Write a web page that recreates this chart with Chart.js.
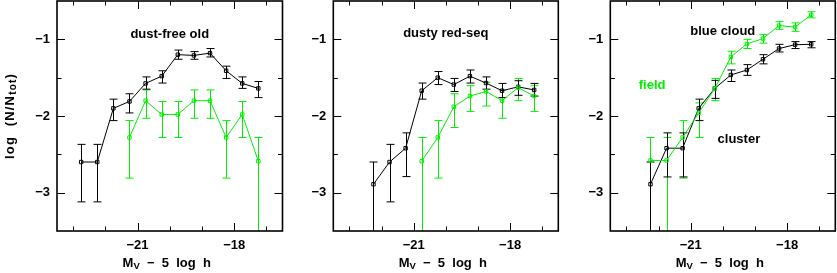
<!DOCTYPE html>
<html>
<head>
<meta charset="utf-8">
<script src="https://cdn.jsdelivr.net/npm/chart.js@4/dist/chart.umd.min.js"></script>
<style>
  body { margin: 0; background: #fff; }
  .panel { position: absolute; top: 0; height: 273px; }
</style>
</head>
<body>
<div class="panel" style="left:0px;width:284px"><canvas id="old-chart" width="284" height="273"></canvas></div>
<div class="panel" style="left:284px;width:276px"><canvas id="dusty-chart" width="276" height="273"></canvas></div>
<div class="panel" style="left:560px;width:277px"><canvas id="blue-chart" width="277" height="273"></canvas></div>
<script>
// magnitude bins (bin centres) and axis ticks
const magBins = [-22.75, -22.25, -21.75, -21.25, -20.75, -20.25, -19.75, -19.25, -18.75, -18.25, -17.75, -17.25];
const xTickLabels = [-21, -18];
const yTickLabels = [-3, -2, -1];

// dust-free old: cluster (black) and field (green), value / upper / lower end of error bar
// null lower end = error bar runs off the bottom of the plot
const oldCluster   = [-2.60, -2.60, -1.90, -1.81, -1.575, -1.48, -1.20, -1.21, -1.18, -1.41, -1.575, -1.64];
const oldClusterHi = [-2.37, -2.37, -1.78, -1.71, -1.49, -1.41, -1.14, -1.16, -1.12, -1.35, -1.49, -1.55];
const oldClusterLo = [-3.12, -3.12, -2.06, -1.96, -1.65, -1.57, -1.26, -1.26, -1.23, -1.51, -1.64, -1.76];
const oldField     = [null, null, null, -2.28, -1.80, -1.98, -1.98, -1.80, -1.80, -2.28, -1.98, -2.59];
const oldFieldHi   = [null, null, null, -2.06, -1.66, -1.81, -1.81, -1.66, -1.66, -2.06, -1.81, -2.28];
const oldFieldLo   = [null, null, null, -2.81, -2.03, -2.28, -2.28, -2.03, -2.03, -2.81, -2.28, null];

// dusty red-seq
const dustyCluster   = [null, -2.89, -2.60, -2.42, -1.67, -1.50, -1.59, -1.48, -1.57, -1.67, -1.62, -1.66];
const dustyClusterHi = [null, -2.60, -2.37, -2.22, -1.57, -1.42, -1.51, -1.40, -1.49, -1.575, -1.54, -1.575];
const dustyClusterLo = [null, null, -3.12, -2.79, -1.78, -1.59, -1.68, -1.57, -1.65, -1.76, -1.73, -1.74];
const dustyField     = [null, null, null, null, -2.59, -2.28, -1.88, -1.74, -1.68, -1.80, -1.63, -1.74];
const dustyFieldHi   = [null, null, null, null, -2.28, -2.06, -1.71, -1.605, -1.56, -1.66, -1.51, -1.605];
const dustyFieldLo   = [null, null, null, null, null, -2.81, -2.15, -1.94, -1.87, -2.03, -1.80, -1.94];

// blue cloud
const blueCluster   = [null, -2.89, -2.42, -2.42, -1.90, -1.64, -1.465, -1.40, -1.26, -1.12, -1.07, -1.065];
const blueClusterHi = [null, -2.60, -2.22, -2.22, -1.78, -1.535, -1.40, -1.33, -1.20, -1.065, -1.03, -1.03];
const blueClusterLo = [null, null, -2.795, -2.795, -2.06, -1.77, -1.55, -1.47, -1.32, -1.165, -1.12, -1.11];
const blueField     = [null, -2.58, -2.58, -2.28, -1.96, -1.64, -1.23, -1.06, -0.99, -0.82, -0.84, -0.68];
const blueFieldHi   = [null, -2.28, -2.28, -2.06, -1.83, -1.51, -1.155, -1.00, -0.935, -0.77, -0.785, -0.64];
const blueFieldLo   = [null, null, null, -2.81, -2.28, -1.80, -1.32, -1.12, -1.05, -0.87, -0.895, -0.72];

const ink = "#000000";
const green = "#00f000";
const fontFamily = "'Liberation Sans', Arial, sans-serif";

function minusLabel(v) {
  return (v < 0 ? "\u2212" : "") + Math.abs(v);
}

function series(values, hi, lo) {
  const points = [];
  magBins.forEach(function (m, i) {
    if (values[i] === null) {
      return;
    }
    points.push({ x: m, y: values[i], hi: hi[i], lo: lo[i] });
  });
  return points;
}

// draw a run of text pieces [text, size, dy] centred on 0,0 of current transform
function drawPieces(ctx, pieces) {
  let total = 0;
  pieces.forEach(function (p) {
    ctx.font = "bold " + p[1] + "px " + fontFamily;
    total += ctx.measureText(p[0]).width;
  });
  let x = -total / 2;
  pieces.forEach(function (p) {
    ctx.font = "bold " + p[1] + "px " + fontFamily;
    ctx.fillText(p[0], x, p[2]);
    x += ctx.measureText(p[0]).width;
  });
}

function noScalePadding(scale) {
  scale.paddingTop = 0;
  scale.paddingBottom = 0;
  scale.paddingLeft = 0;
  scale.paddingRight = 0;
}

const errorBarPlugin = {
  id: "errorBars",
  beforeDatasetsDraw(chart) {
    const ctx = chart.ctx;
    const xs = chart.scales.x;
    const ys = chart.scales.y;
    const area = chart.chartArea;
    ctx.save();
    ctx.beginPath();
    ctx.rect(area.left, area.top, area.right - area.left, area.bottom - area.top);
    ctx.clip();
    chart.data.datasets.forEach(function (ds) {
      ctx.strokeStyle = ds.borderColor;
      ctx.lineWidth = 1;
      ds.data.forEach(function (pt) {
        const px = Math.round(xs.getPixelForValue(pt.x)) + 0.5;
        const top = ys.getPixelForValue(pt.hi);
        const bottom = pt.lo === null ? area.bottom : ys.getPixelForValue(pt.lo);
        ctx.beginPath();
        ctx.moveTo(px, top);
        ctx.lineTo(px, bottom);
        ctx.moveTo(px - 4, top);
        ctx.lineTo(px + 4, top);
        if (pt.lo !== null) {
          ctx.moveTo(px - 4, bottom);
          ctx.lineTo(px + 4, bottom);
        }
        ctx.stroke();
      });
    });
    ctx.restore();
  },
};

const framePlugin = {
  id: "frame",
  afterDraw(chart, args, opts) {
    const ctx = chart.ctx;
    const xs = chart.scales.x;
    const ys = chart.scales.y;
    const a = chart.chartArea;
    ctx.save();
    ctx.strokeStyle = ink;
    ctx.lineWidth = 1;
    ctx.beginPath();
    for (let v = Math.ceil(xs.min); v < xs.max; v += 1) {
      const px = Math.round(xs.getPixelForValue(v)) + 0.5;
      const len = v % 3 === 0 ? 8 : 4.5;
      ctx.moveTo(px, a.bottom);
      ctx.lineTo(px, a.bottom - len);
      ctx.moveTo(px, a.top);
      ctx.lineTo(px, a.top + len);
    }
    for (let v = Math.ceil(ys.min * 2) / 2; v < ys.max; v += 0.5) {
      if (v <= ys.min) {
        continue;
      }
      const py = Math.round(ys.getPixelForValue(v)) + 0.5;
      const len = Number.isInteger(v) ? 8 : 4.5;
      ctx.moveTo(a.left, py);
      ctx.lineTo(a.left + len, py);
      ctx.moveTo(a.right, py);
      ctx.lineTo(a.right - len, py);
    }
    ctx.stroke();
    ctx.lineWidth = 1.6;
    ctx.strokeRect(a.left, a.top, a.right - a.left, a.bottom - a.top);

    // notes inside the panel
    ctx.textBaseline = "middle";
    (opts.notes || []).forEach(function (n) {
      ctx.fillStyle = n.color;
      ctx.save();
      ctx.translate(xs.getPixelForValue(n.x), ys.getPixelForValue(n.y));
      drawPieces(ctx, [[n.text, 13, 0]]);
      ctx.restore();
    });

    // axis titles
    ctx.fillStyle = ink;
    ctx.save();
    ctx.translate((a.left + a.right) / 2 - 3, 263);
    drawPieces(ctx, [["M", 13, 0], ["V", 9.5, 3], ["  \u2212  5  log  h", 13, 0]]);
    ctx.restore();
    if (opts.yTitle) {
      ctx.save();
      ctx.translate(10.5, (a.top + a.bottom) / 2);
      ctx.rotate(-Math.PI / 2);
      ctx.letterSpacing = "1.2px";
      drawPieces(ctx, [["log  (N/N", 13, 0], ["tot", 10, 3], [")", 13, 0]]);
      ctx.restore();
    }
    ctx.restore();
  },
};

function makePanel(canvasId, cluster, field, setup) {
  const tickFont = { family: fontFamily, size: 13, weight: "bold" };
  return new Chart(document.getElementById(canvasId), {
    type: "line",
    data: {
      datasets: [
        {
          label: "field",
          data: field,
          borderColor: green,
          borderWidth: 1,
          pointStyle: "rect",
          pointRadius: 2.4,
          pointBorderWidth: 1,
          pointBorderColor: green,
          pointBackgroundColor: "rgba(0,0,0,0)",
          tension: 0,
        },
        {
          label: "cluster",
          data: cluster,
          borderColor: ink,
          borderWidth: 1,
          pointStyle: "rect",
          pointRadius: 2.4,
          pointBorderWidth: 1,
          pointBorderColor: ink,
          pointBackgroundColor: "rgba(0,0,0,0)",
          tension: 0,
        },
      ],
    },
    options: {
      responsive: false,
      animation: false,
      events: [],
      layout: { autoPadding: false, padding: { top: 1, right: setup.padRight, left: 0, bottom: 0 } },
      plugins: {
        legend: { display: false },
        tooltip: { enabled: false },
        frame: { notes: setup.notes, yTitle: setup.yTitle },
      },
      scales: {
        x: {
          type: "linear",
          min: -23.5,
          max: -16.5,
          grid: { display: false, drawTicks: false },
          border: { display: false },
          afterBuildTicks: function (scale) {
            scale.ticks = xTickLabels.map(function (v) { return { value: v }; });
          },
          afterFit: function (scale) {
            scale.height = 42;
            noScalePadding(scale);
          },
          ticks: {
            autoSkip: false,
            maxRotation: 0,
            padding: 7,
            color: ink,
            font: tickFont,
            callback: function (v) { return minusLabel(v); },
          },
        },
        y: {
          type: "linear",
          min: -3.5,
          max: -0.5,
          grid: { display: false, drawTicks: false },
          border: { display: false },
          afterBuildTicks: function (scale) {
            scale.ticks = yTickLabels.map(function (v) { return { value: v }; });
          },
          afterFit: function (scale) {
            scale.width = setup.yWidth;
            noScalePadding(scale);
          },
          ticks: {
            autoSkip: false,
            padding: 7,
            color: ink,
            font: tickFont,
            callback: function (v) { return minusLabel(v); },
          },
        },
      },
    },
    plugins: [errorBarPlugin, framePlugin],
  });
}

makePanel("old-chart",
  series(oldCluster, oldClusterHi, oldClusterLo),
  series(oldField, oldFieldHi, oldFieldLo),
  { yWidth: 57, padRight: 1.5, yTitle: true,
    notes: [{ text: "dust-free old", x: -20, y: -0.93, color: ink }] });

makePanel("dusty-chart",
  series(dustyCluster, dustyClusterHi, dustyClusterLo),
  series(dustyField, dustyFieldHi, dustyFieldLo),
  { yWidth: 49.3, padRight: 1.7, yTitle: false,
    notes: [{ text: "dusty red-seq", x: -20, y: -0.92, color: ink }] });

makePanel("blue-chart",
  series(blueCluster, blueClusterHi, blueClusterLo),
  series(blueField, blueFieldHi, blueFieldLo),
  { yWidth: 50.3, padRight: 1.7, yTitle: false,
    notes: [
      { text: "blue cloud", x: -20, y: -0.90, color: ink },
      { text: "field", x: -22.2, y: -1.6, color: green },
      { text: "cluster", x: -19.5, y: -2.3, color: ink },
    ] });
</script>
</body>
</html>
